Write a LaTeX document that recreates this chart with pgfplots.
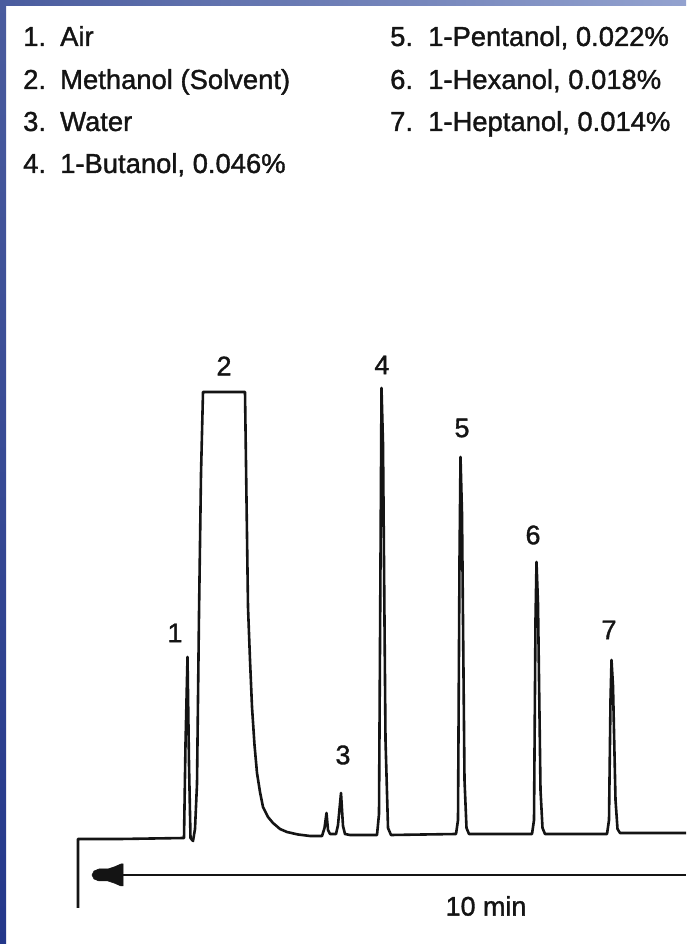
\documentclass[border=0pt]{standalone}
\usepackage{pgfplots}
\pgfplotsset{compat=1.18}
\usepackage{fontspec}
\setmainfont{Liberation Sans}[FakeBold=1.3]
\definecolor{ink}{HTML}{141414}
\definecolor{bluedark}{HTML}{23378A}
\definecolor{bluemid}{HTML}{4A5C9E}
\definecolor{bluelight}{HTML}{93A2CF}
\begin{document}
\begin{tikzpicture}
% background and blue frame strips
\fill[white] (0,0) rectangle (686bp,944bp);
\shade[top color=bluemid, bottom color=bluedark] (0,0) rectangle (6bp,944bp);
\shade[left color=bluemid, right color=bluelight] (0,938bp) rectangle (686bp,944bp);
\begin{axis}[
  at={(0,0)}, anchor=south west,
  scale only axis, width=686bp, height=944bp,
  xmin=0, xmax=686, ymin=0, ymax=944,
  hide axis, clip=false,
]
% chromatogram trace (x: chart px from left, y: 944 - px from top)
\addplot[ink, line width=2.6bp, line join=round, mark=none] coordinates {
(78,36) (78,105) (120,105) (184,106) (185.5,200) (187.5,287) (189,180) (190.5,106)
(193,103) (195,115) (197,160) (199,330) (201,470) (203,552) (245,552)
(246.5,444) (248,337) (250,284) (252,237) (254.5,199) (257,171) (260,152)
(263,137) (268,127) (273,121) (280,115) (287,112) (298,109.5) (310,108) (322,108)
(324.5,116) (326.5,131) (328,114) (330,110) (336,110) (338,119) (341,151)
(343,118) (345,110) (350,109) (377,109) (379,130) (380.5,384) (381.5,556)
(383,500) (385.5,204) (388,116) (391,109) (456,110) (458,124) (459.5,384)
(460.5,487) (462,430) (464.5,164) (466.5,116) (469,110) (532,110) (534,124)
(535.5,324) (536.5,382) (538,340) (540.5,154) (542.5,116) (545,110) (607,110)
(609,124) (610.5,244) (611.5,284) (613,258) (615.5,144) (617.5,115) (620,111) (686,111)
};
% time arrow
\addplot[ink, line width=1.8bp, mark=none] coordinates {(120,69) (686,69)};
\addplot[ink, fill=ink, draw=ink, line width=0.5bp, mark=none] coordinates {
(92,69) (94,73) (99,75) (108,75) (114,77) (121,80) (123,80)
(123,58) (121,58) (114,61) (108,63) (99,63) (94,65) (92,69)
} -- cycle;
% peak labels
\begin{scope}[every node/.style={ink, font=\fontsize{27}{32}\selectfont, inner sep=0}]
\node at (axis cs:175,311) {1};
\node at (axis cs:224,578) {2};
\node at (axis cs:343,189) {3};
\node at (axis cs:382,579) {4};
\node at (axis cs:462,516) {5};
\node at (axis cs:533,409) {6};
\node at (axis cs:609,314) {7};
% time label
\node at (axis cs:486,38) {10 min};
\end{scope}
% compound list
\begin{scope}[every node/.style={ink, font=\fontsize{27.5}{32}\selectfont, inner sep=0, anchor=base west}]
\node at (axis cs:23,898) {\makebox[37bp][l]{1.}Air};
\node at (axis cs:23,855) {\makebox[37bp][l]{2.}Methanol (Solvent)};
\node at (axis cs:23,813) {\makebox[37bp][l]{3.}Water};
\node at (axis cs:23,771) {\makebox[37bp][l]{4.}1-Butanol, 0.046\%};
\node at (axis cs:390,898) {\makebox[38bp][l]{5.}1-Pentanol, 0.022\%};
\node at (axis cs:390,855) {\makebox[38bp][l]{6.}1-Hexanol, 0.018\%};
\node at (axis cs:390,813) {\makebox[38bp][l]{7.}1-Heptanol, 0.014\%};
\end{scope}
\end{axis}
\end{tikzpicture}
\end{document}
